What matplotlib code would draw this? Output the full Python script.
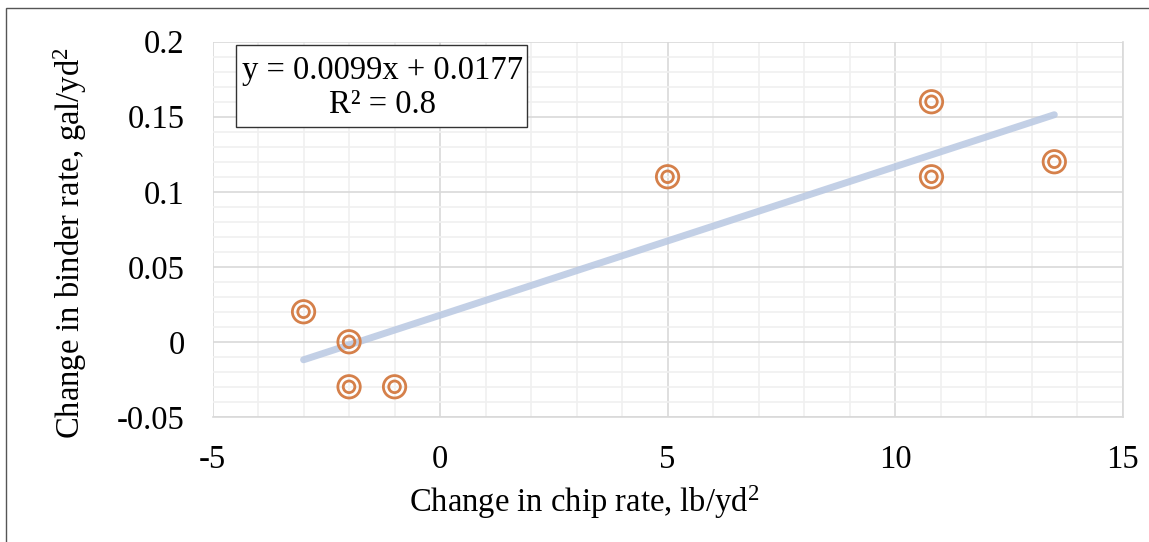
import matplotlib
matplotlib.use("Agg")
import matplotlib.pyplot as plt
from matplotlib.patches import Rectangle
from matplotlib.ticker import MultipleLocator
import numpy as np

plt.rcParams['font.family'] = ['Liberation Serif', 'DejaVu Serif']
plt.rcParams['mathtext.fontset'] = 'custom'
plt.rcParams['mathtext.rm'] = 'Liberation Serif'
plt.rcParams['mathtext.it'] = 'Liberation Serif:italic'

chip_change = [-3, -2, -2, -1, 5, 10.8, 10.8, 13.5]
binder_change = [0.02, 0.0, -0.03, -0.03, 0.11, 0.16, 0.11, 0.12]
slope = 0.0099
intercept = 0.0177
r_squared = 0.8
x_ticks = [-5, 0, 5, 10, 15]
y_ticks = [-0.05, 0, 0.05, 0.1, 0.15, 0.2]
y_tick_labels = ['-0.05', '0', '0.05', '0.1', '0.15', '0.2']

fig = plt.figure(figsize=(11.49, 5.42), dpi=100)
ax = fig.add_axes([0.185, 0.231, 0.792, 0.692])

ax.set_xlim(-5, 15)
ax.set_ylim(-0.05, 0.2)
ax.set_xticks(x_ticks)
ax.set_xticklabels([str(t) for t in x_ticks])
ax.set_yticks(y_ticks)
ax.set_yticklabels(y_tick_labels)
ax.xaxis.set_minor_locator(MultipleLocator(1))
ax.yaxis.set_minor_locator(MultipleLocator(0.01))
ax.grid(which='minor', color='#f0f0f0', linewidth=1.2)
ax.grid(which='major', color='#d9d9d9', linewidth=1.2)
ax.set_axisbelow(True)
ax.tick_params(which='both', length=0, labelsize=23.5)
ax.tick_params(axis='x', pad=20)
ax.tick_params(axis='y', pad=20)
for s in ['top', 'left']:
    ax.spines[s].set_visible(False)
for s in ['bottom', 'right']:
    ax.spines[s].set_color('#d9d9d9')
    ax.spines[s].set_linewidth(1.2)

# trendline
xt = np.array([min(chip_change), max(chip_change)])
ax.plot(xt, slope * xt + intercept, color='#b9c8e2', linewidth=5,
        solid_capstyle='round', alpha=0.85, zorder=2)

orange = '#d5804a'
ax.scatter(chip_change, binder_change, s=260, facecolors='none',
           edgecolors=orange, linewidths=2.0, zorder=3)
ax.scatter(chip_change, binder_change, s=70, facecolors='none',
           edgecolors=orange, linewidths=2.0, zorder=3)

ax.add_patch(Rectangle((0.0253, 0.773), 0.3207, 0.219, transform=ax.transAxes,
                       facecolor='white', edgecolor='#333333', linewidth=1, zorder=4))
ax.text(0.187, 0.878, f"y = {slope}x + {intercept}\nR² = {r_squared}",
        transform=ax.transAxes, ha='center', va='center', fontsize=23.5,
        linespacing=1.15, zorder=5)

fig.text(584/1149, 1 - 502/542, r"Change in chip rate, lb/yd$^2$",
         fontsize=23.5, ha='center', va='center')
fig.text(70/1149, 1 - 243/542, r"Change in binder rate, gal/yd$^2$",
         fontsize=23.5, ha='center', va='center', rotation=90)

fig.patches.append(Rectangle((6/1149, -0.1), 1.2, 1 - 8/542 + 0.1,
                             transform=fig.transFigure, facecolor='none',
                             edgecolor='#555555', linewidth=1))

fig.savefig("out.png", dpi=100)
